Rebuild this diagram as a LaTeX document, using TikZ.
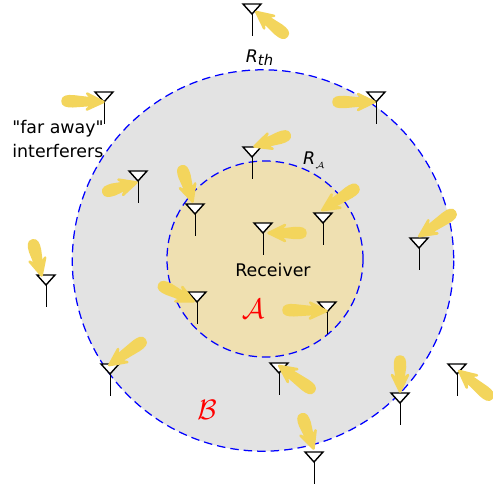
\documentclass[tikz,border=0pt]{standalone}
\usepackage{amsmath,amssymb}
\usepackage{fontspec}
\setmainfont[Ligatures=TeXOff]{DejaVu Sans}
\newfontface\slfont{DejaVu Sans Oblique}
\usetikzlibrary{arrows.meta}
\definecolor{ringgray}{RGB}{227,227,227}
\definecolor{diskyellow}{RGB}{239,224,177}
\definecolor{beamyellow}{RGB}{243,213,92}
\tikzset{
  zone/.style={draw=blue, line width=0.025cm, dash pattern=on 0.17cm off 0.1cm},
  beam/.style={draw=beamyellow, fill=beamyellow, line width=0.05cm, line join=round},
  antenna/.style={draw=black, line width=0.028cm, fill=white},
  label/.style={font=\fontsize{9.9}{12}\selectfont, black},
}
\begin{document}
\begin{tikzpicture}[x=0.02cm, y=-0.02cm]
    \useasboundingbox (0,0) rectangle (493,489);
    % Zones
    \fill[white] (0,0) rectangle (493,489);
    \draw[zone, fill=ringgray] (263,260.5) circle (190.7);
    \draw[zone, fill=diskyellow] (265,259) circle (98);

    % Antennas
    \foreach \x/\y in {252/4, 104/92, 376/92, 138/171, 252/147, 195/204, 323/213, 263/223, 419/238,
                       46/275, 197/292, 327/302, 110/364, 279/363, 457/364, 400/393, 314/452} {
        \draw[antenna] (\x-9,\y) -- (\x+9,\y) -- (\x,\y+10) -- cycle;
        \draw[black, line width=0.02cm] (\x,\y+10) -- (\x,\y+32);
    }

    % Beams
    \foreach \a/\b/\c/\d in {288/37/255/11, 61/101/105/102, 332/102/376/102, 102/193/138/182,
                             291/134/253/147, 181/165/193/203, 359/186/321/211, 307/233/267/233,
                             456/211/418/237, 32/239/42/277, 158/284/195/302, 282/310/328/311,
                             146/339/108/366, 315/392/278/365, 493/399/458/370, 400/355/400/393,
                             301/413/314/450} {
        \pgfmathsetmacro\ang{atan2(\b-\d,\c-\a)}
        \pgfmathsetmacro\len{veclen(\c-\a,\d-\b)}
        \begin{scope}[shift={(\a,\b)}, rotate=\ang]
            \draw[beam] (1.5,0) .. controls (1.5,4.5) and (6,5.2) .. (12,5)
                -- (\len-13,3.2) -- (\len-18,8) -- (\len-1.5,0) -- (\len-18,-8) -- (\len-13,-3.2)
                -- (12,-5) .. controls (6,-5.2) and (1.5,-4.5) .. cycle;
        \end{scope}
    }

    % Labels
    \node[label] (rth) at (259.5,58) {\slfont R\raisebox{-0.3ex}{\fontsize{8.4}{8}\selectfont\slfont th}};
    \node[label] (ra) at (314,160) {\slfont R\raisebox{-0.4ex}{$\scriptscriptstyle\mathcal{A}$}};
    \node[label] (receiver) at (273,270) {Receiver};
    \node[label, align=left, anchor=north west, inner sep=0pt] (far) at (12,120) {"far away"\\[1.5pt]interferers};
    \node[red, scale=1.6] (zonea) at (253,309) {$\mathcal{A}$};
    \node[red, scale=1.6] (zoneb) at (207,410) {$\mathcal{B}$};
\end{tikzpicture}
\end{document}
